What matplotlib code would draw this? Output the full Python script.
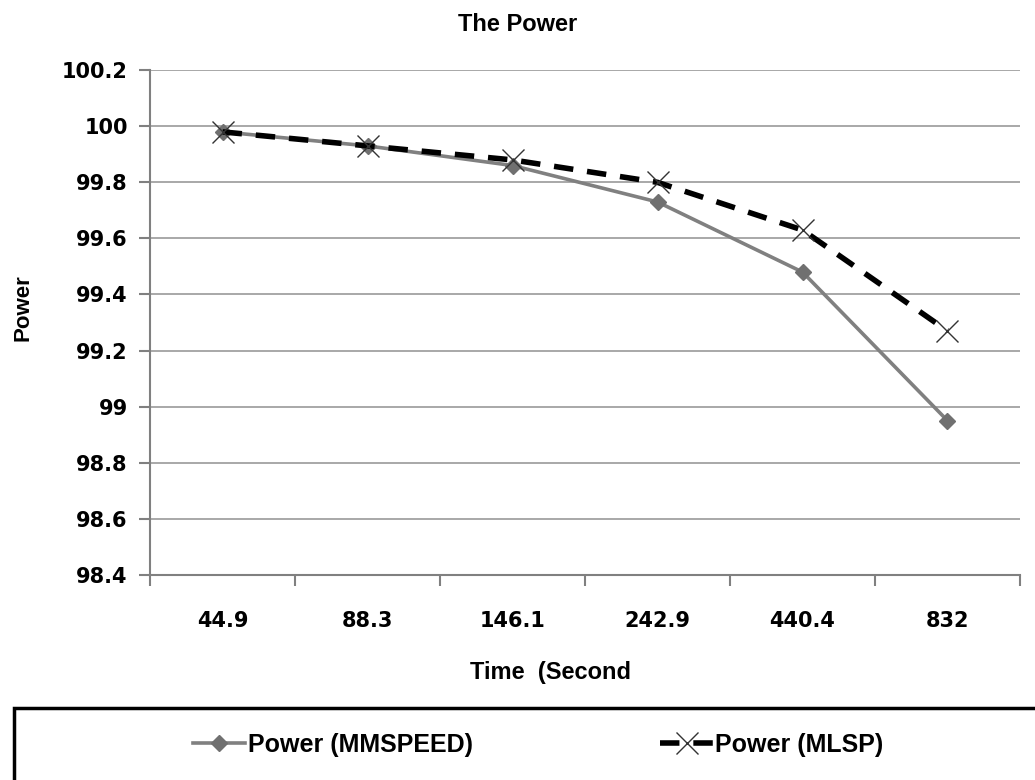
import matplotlib.pyplot as plt
from matplotlib.patches import Rectangle

# data
times = ['44.9', '88.3', '146.1', '242.9', '440.4', '832']
power_mmspeed = [99.98, 99.93, 99.86, 99.73, 99.48, 98.95]
power_mlsp = [99.98, 99.93, 99.88, 99.80, 99.63, 99.27]
yticks = [98.4, 98.6, 98.8, 99, 99.2, 99.4, 99.6, 99.8, 100, 100.2]

label_font = ['Liberation Sans', 'DejaVu Sans']

fig = plt.figure(figsize=(10.35, 7.8), dpi=100)
ax = fig.add_axes([0.145, 0.263, 0.8405, 0.647])

x = list(range(len(times)))
ax.plot(x, power_mmspeed, color='#808080', lw=2.6, marker='D', ms=8,
        mfc='#707070', mec='#707070', label='Power (MMSPEED)', zorder=3)
ax.plot(x, power_mlsp, color='black', lw=4, dashes=(3.5, 2.5), marker='x', ms=16,
        mec='#333333', mew=1, label='Power (MLSP)', zorder=4)

ax.set_xlim(-0.5, len(times) - 0.5)
ax.set_ylim(98.4, 100.2)
ax.set_yticks(yticks)
ax.set_yticklabels([f'{v:g}' for v in yticks], fontsize=15, fontweight='bold',
                   family='DejaVu Sans')
ax.set_xticks(x)
ax.set_xticklabels(times, fontsize=15, fontweight='bold', family='DejaVu Sans')
ax.set_xticks([i - 0.5 for i in range(len(times) + 1)], minor=True)
ax.tick_params(axis='x', which='major', length=0, pad=26)
ax.tick_params(axis='x', which='minor', length=8, direction='out', color='#808080', width=1.5)
ax.tick_params(axis='y', length=8, direction='out', color='#808080', width=1.5, pad=8)
ax.yaxis.grid(True, color='#9a9a9a', lw=1.2)
ax.set_axisbelow(True)
for s in ['top', 'right']:
    ax.spines[s].set_visible(False)
ax.spines['left'].set_color('#808080')
ax.spines['left'].set_linewidth(1.5)
ax.spines['bottom'].set_color('#808080')
ax.spines['bottom'].set_linewidth(1.5)

fig.text(0.5, 0.968, 'The Power', ha='center', va='center', fontsize=17, fontweight='bold',
         family=label_font)
fig.text(0.532, 0.138, 'Time  (Second', ha='center', va='center', fontsize=17,
         fontweight='bold', family=label_font)
fig.text(0.022, 0.605, 'Power', rotation=90, ha='center', va='center', fontsize=16,
         fontweight='bold', family=label_font)

# legend box
fig.patches.append(Rectangle((0.014, -0.05), 1.0, 0.142, transform=fig.transFigure,
                             fill=False, ec='black', lw=2.5))
fig.legend(loc='center', bbox_to_anchor=(0.52, 0.045), ncol=2, frameon=False,
           columnspacing=7.5, handlelength=2.1, handletextpad=0.1,
           prop={'family': label_font, 'weight': 'bold', 'size': 18})

plt.savefig('out.png', dpi=100)
